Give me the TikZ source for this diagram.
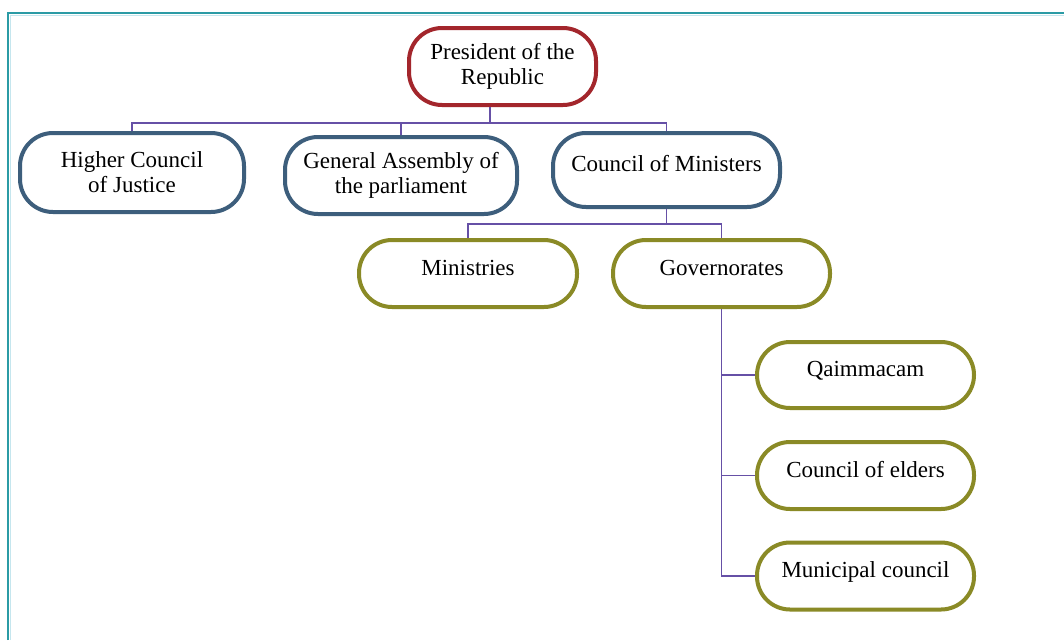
\documentclass[tikz,border=0pt]{standalone}
\usepackage{fontspec}
\setmainfont{Liberation Serif}
\definecolor{presred}{HTML}{A3262C}
\definecolor{slate}{HTML}{3D5E7C}
\definecolor{olive}{HTML}{8A8A26}
\definecolor{linepurple}{HTML}{6650A6}
\definecolor{frameteal}{HTML}{2B9BA5}
\definecolor{framelight}{HTML}{C5E6EE}
\begin{document}
\begin{tikzpicture}[x=1pt,y=-1pt,
  box/.style={draw, line width=4pt, rounded corners=33pt, inner sep=0pt,
    font=\fontsize{23}{25}\selectfont, align=center, fill=white},
  one/.style={text height=15pt, text depth=12pt},
  redbox/.style={box, draw=presred},
  bluebox/.style={box, draw=slate},
  olivebox/.style={box, draw=olive, one, minimum width=217pt, minimum height=67pt},
  conn/.style={draw=linepurple, line width=1.6pt}]
\useasboundingbox (0,0) rectangle (1064,640);
\fill[white] (0,0) rectangle (1064,640);
\draw[framelight, line width=1.5pt] (10.5,640) -- (10.5,15.5) -- (1064,15.5);
\draw[frameteal, line width=2pt] (8,640) -- (8,13) -- (1064,13);

\node[redbox, minimum width=187pt, minimum height=77pt] (pres) at (502.5,66.5) {President of the\\Republic};
\node[bluebox, minimum width=224pt, minimum height=79pt] (hcj) at (132,172.5) {Higher Council\\of Justice};
\node[bluebox, minimum width=232pt, minimum height=77pt] (ga) at (401,175.5) {General Assembly of\\the parliament};
\node[bluebox, one, minimum width=227pt, minimum height=74pt] (com) at (666.5,170) {Council of Ministers};
\node[olivebox, minimum width=218pt] (min) at (468,273.5) {Ministries};
\node[olivebox] (gov) at (721.5,273.5) {Governorates};
\node[olivebox, minimum height=66pt] (qai) at (865.5,375) {Qaimmacam};
\node[olivebox] (eld) at (865.5,475.5) {Council of elders};
\node[olivebox] (mun) at (865.5,576) {Municipal council};

\coordinate (bus1) at (490,123);
\coordinate (bus2) at (668,224);
\draw[conn] (pres.south -| bus1) -- (bus1);
\draw[conn] (hcj.north) -- (hcj.north |- bus1) -- (com.north |- bus1) -- (com.north);
\draw[conn] (ga.north |- bus1) -- (ga.north);
\draw[conn] (com.south) -- (com.south |- bus2);
\draw[conn] (min.north) -- (min.north |- bus2) -- (gov.north |- bus2) -- (gov.north);
\draw[conn] (gov.south) -- (gov.south |- mun.west) -- (mun.west);
\draw[conn] (gov.south |- qai.west) -- (qai.west);
\draw[conn] (gov.south |- eld.west) -- (eld.west);
\end{tikzpicture}
\end{document}
